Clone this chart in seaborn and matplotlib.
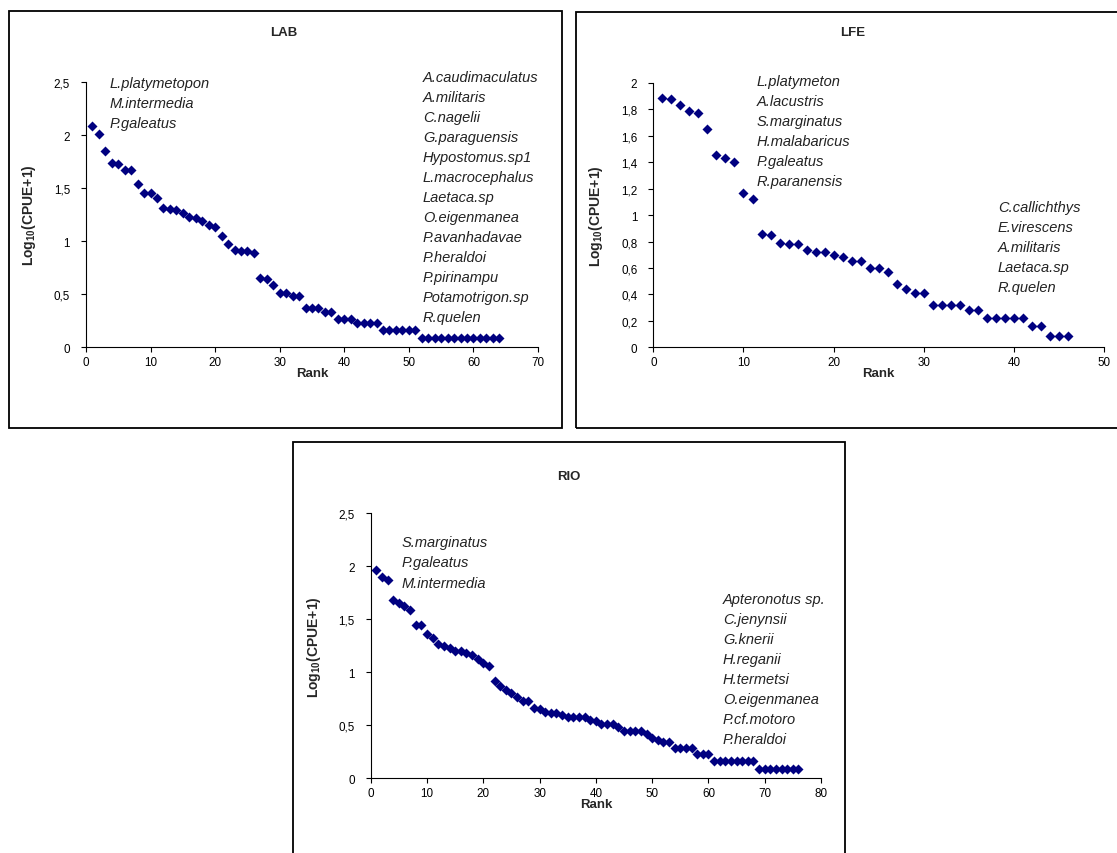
import numpy as np
import pandas as pd
import seaborn as sns
import matplotlib.pyplot as plt
from matplotlib.patches import Rectangle
from matplotlib.ticker import FuncFormatter, MultipleLocator

# log10(CPUE+1) per species, ranked, for each habitat
lab_values = [2.09, 2.01, 1.85, 1.74, 1.73, 1.67, 1.67, 1.54, 1.45, 1.45,
              1.41, 1.31, 1.30, 1.29, 1.27, 1.23, 1.22, 1.19, 1.15, 1.13,
              1.05, 0.97, 0.92, 0.91, 0.91, 0.89, 0.65, 0.64, 0.59, 0.51,
              0.51, 0.48, 0.48, 0.37, 0.37, 0.37, 0.33, 0.33, 0.27, 0.27,
              0.27, 0.225, 0.225, 0.225, 0.225, 0.16, 0.16, 0.16, 0.16, 0.16,
              0.16, 0.085, 0.085, 0.085, 0.085, 0.085, 0.085, 0.085, 0.085, 0.085,
              0.085, 0.085, 0.085, 0.085]
lfe_values = [1.89, 1.88, 1.83, 1.79, 1.77, 1.65, 1.455, 1.43, 1.40, 1.17,
              1.12, 0.86, 0.85, 0.79, 0.78, 0.78, 0.74, 0.72, 0.72, 0.70,
              0.686, 0.656, 0.656, 0.60, 0.60, 0.567, 0.48, 0.44, 0.41, 0.41,
              0.32, 0.32, 0.32, 0.32, 0.28, 0.28, 0.225, 0.225, 0.225, 0.225,
              0.225, 0.16, 0.16, 0.088, 0.088, 0.088]
rio_values = [1.965, 1.90, 1.87, 1.68, 1.65, 1.63, 1.59, 1.45, 1.45, 1.36,
              1.32, 1.27, 1.25, 1.23, 1.20, 1.20, 1.18, 1.16, 1.13, 1.09,
              1.06, 0.915, 0.87, 0.83, 0.805, 0.765, 0.73, 0.73, 0.66, 0.65,
              0.63, 0.62, 0.62, 0.60, 0.575, 0.575, 0.575, 0.575, 0.553, 0.544,
              0.51, 0.51, 0.51, 0.487, 0.45, 0.45, 0.45, 0.45, 0.418, 0.377,
              0.365, 0.34, 0.34, 0.285, 0.285, 0.285, 0.285, 0.23, 0.23, 0.23,
              0.167, 0.167, 0.167, 0.167, 0.167, 0.167, 0.167, 0.167, 0.088, 0.088,
              0.088, 0.088, 0.088, 0.088, 0.088, 0.088]

lab_top = ['L.platymetopon', 'M.intermedia', 'P.galeatus']
lab_rare = ['A.caudimaculatus', 'A.militaris', 'C.nagelii', 'G.paraguensis',
            'Hypostomus.sp1', 'L.macrocephalus', 'Laetaca.sp', 'O.eigenmanea',
            'P.avanhadavae', 'P.heraldoi', 'P.pirinampu', 'Potamotrigon.sp', 'R.quelen']
lfe_top = ['L.platymeton', 'A.lacustris', 'S.marginatus', 'H.malabaricus',
           'P.galeatus', 'R.paranensis']
lfe_rare = ['C.callichthys', 'E.virescens', 'A.militaris', 'Laetaca.sp', 'R.quelen']
rio_top = ['S.marginatus', 'P.galeatus', 'M.intermedia']
rio_rare = ['Apteronotus sp.', 'C.jenynsii', 'G.knerii', 'H.reganii', 'H.termetsi',
            'O.eigenmanea', 'P.cf.motoro', 'P.heraldoi']

sns.set_style('ticks')
plt.rcParams['font.family'] = ['Liberation Sans', 'DejaVu Sans']
plt.rcParams['mathtext.fontset'] = 'custom'
plt.rcParams['mathtext.rm'] = 'Liberation Sans'
plt.rcParams['mathtext.bf'] = 'Liberation Sans:bold'

W, H = 1117, 854
fig = plt.figure(figsize=(W / 100, H / 100), dpi=100)


def box(x0, y0, x1, y1):
    fig.add_artist(Rectangle((x0 / W, 1 - y1 / H), (x1 - x0) / W, (y1 - y0) / H,
                             transform=fig.transFigure, fill=False,
                             ec='black', lw=1.3))


def comma(v, _):
    return f'{round(v, 1):g}'.replace('.', ',')


def panel(l, t, r, b, values, xmax, ymax, ystep, title, title_xy,
          top_names, top_xy, rare_names, rare_xy):
    ax = fig.add_axes([l / W, 1 - b / H, (r - l) / W, (b - t) / H])
    df = pd.DataFrame({'rank': np.arange(1, len(values) + 1), 'value': values})
    sns.scatterplot(data=df, x='rank', y='value', marker='D', color='#000080',
                    s=26, linewidth=0, ax=ax)
    ax.set_xlim(0, xmax)
    ax.set_ylim(0, ymax)
    ax.xaxis.set_major_locator(MultipleLocator(10))
    ax.yaxis.set_major_locator(MultipleLocator(ystep))
    ax.yaxis.set_major_formatter(FuncFormatter(comma))
    ax.tick_params(axis='both', direction='out', length=3.5, width=0.8,
                   labelsize=8.4, colors='black')
    ax.tick_params(axis='y', pad=8)
    ax.tick_params(axis='x', pad=3)
    for side in ('top', 'right'):
        ax.spines[side].set_visible(False)
    for side in ('left', 'bottom'):
        ax.spines[side].set_color('black')
        ax.spines[side].set_linewidth(0.8)
    ax.set_xlabel('Rank', fontsize=9.5, fontweight='bold')
    ax.set_ylabel(r'Log$_{\mathbf{10}}$(CPUE+1)', fontsize=10, fontweight='bold')
    ax.xaxis.set_label_coords(0.5, -0.075)
    ax.yaxis.set_label_coords(-0.107, 0.5)
    fig.text(title_xy[0] / W, 1 - title_xy[1] / H, title, ha='center',
             va='center', fontsize=9.5, fontweight='bold')
    for names, (x, y) in ((top_names, top_xy), (rare_names, rare_xy)):
        for i, name in enumerate(names):
            fig.text(x / W, 1 - (y + 20 * i) / H, name, ha='left', va='center',
                     fontsize=10.5, fontstyle='italic', color='#222222')
    return ax


box(9, 12, 562, 429)
box(576, 13, 1125, 429)
box(293, 443, 845, 870)

panel(86, 83, 538, 348.3, lab_values, 70, 2.5, 0.5, 'LAB', (284, 33),
      lab_top, (110, 84), lab_rare, (423, 78))
panel(653.3, 84, 1104.3, 348.3, lfe_values, 50, 2.0, 0.2, 'LFE', (853, 33),
      lfe_top, (757, 81.7), lfe_rare, (998, 208.3))
panel(370.7, 514.3, 821, 779.3, rio_values, 80, 2.5, 0.5, 'RIO', (569, 477),
      rio_top, (402, 543.5), rio_rare, (723, 600))

fig.savefig('out.png', dpi=100)
